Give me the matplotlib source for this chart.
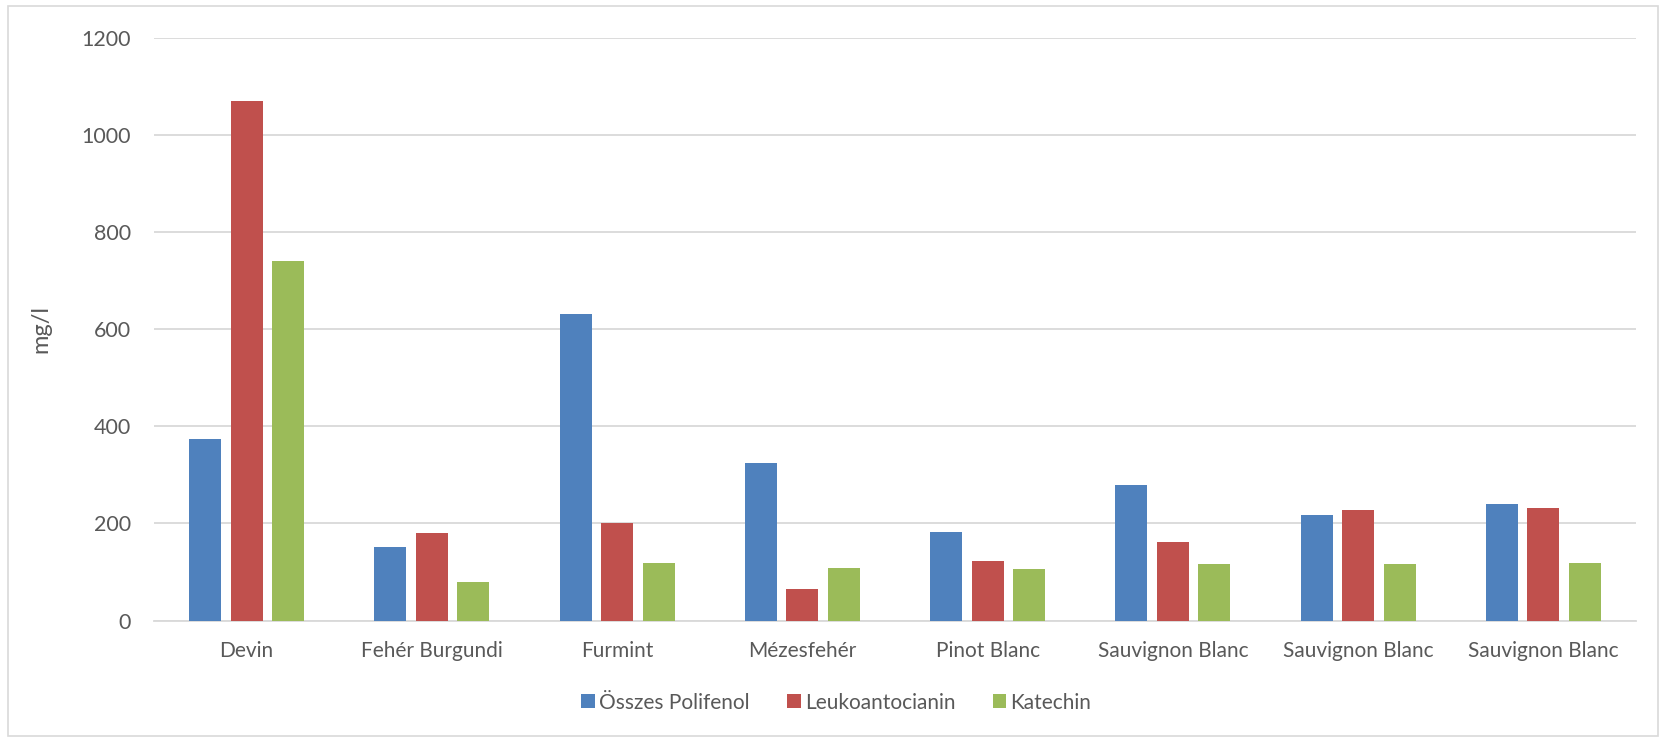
import matplotlib
matplotlib.use("Agg")
import matplotlib.pyplot as plt
import numpy as np
from matplotlib.patches import Rectangle

categories = ["Devin", "Fehér Burgundi", "Furmint", "Mézesfehér", "Pinot Blanc",
              "Sauvignon Blanc", "Sauvignon Blanc", "Sauvignon Blanc"]
osszes_polifenol = [374, 152, 631, 325, 183, 280, 218, 241]
leukoantocianin = [1071, 180, 201, 64, 122, 162, 228, 232]
katechin = [741, 80, 118, 108, 107, 116, 116, 118]
series_names = ["Összes Polifenol", "Leukoantocianin", "Katechin"]
colors = ["#4F81BD", "#C0504D", "#9BBB59"]
yticks = [0, 200, 400, 600, 800, 1000, 1200]

plt.rcParams['font.family'] = ['Lato', 'DejaVu Sans']
text_color = "#595959"

fig = plt.figure(figsize=(16.66, 7.42), dpi=100)
ax = fig.add_axes([0.0924, 0.1637, 0.982 - 0.0924, 0.9484 - 0.1637])

# chart border
fig.patches.append(Rectangle((0.005, 0.008), 0.99, 0.984, transform=fig.transFigure,
                             fill=False, edgecolor="#D9D9D9", linewidth=1.2))

x = np.arange(len(categories))
w = 0.173
step = 0.224
for i, (vals, name, c) in enumerate(zip([osszes_polifenol, leukoantocianin, katechin], series_names, colors)):
    ax.bar(x + (i - 1) * step, vals, width=w, color=c, label=name, zorder=3)

ax.set_xlim(-0.5, len(categories) - 0.5)
ax.set_ylim(0, 1200)
ax.set_yticks(yticks)
ax.set_yticklabels([str(t) for t in yticks])
ax.set_xticks(x)
ax.set_xticklabels(categories)
ax.yaxis.grid(True, color="#D9D9D9", linewidth=1.3, zorder=0)
ax.set_axisbelow(True)
for s in ["top", "right", "left"]:
    ax.spines[s].set_visible(False)
ax.spines["bottom"].set_color("#D9D9D9")
ax.spines["bottom"].set_linewidth(1.3)
ax.tick_params(axis="x", length=0, labelsize=15, colors=text_color, pad=15)
ax.tick_params(axis="y", length=0, labelsize=15.5, colors=text_color, pad=16.5)
ax.set_ylabel("mg/l", fontsize=17, color=text_color, labelpad=22)

leg = fig.legend(loc="center", bbox_to_anchor=(0.502, 0.053), ncol=3, frameon=False,
                 fontsize=15, handlelength=0.65, handleheight=0.65, handletextpad=0.2,
                 columnspacing=1.8)
for t in leg.get_texts():
    t.set_color(text_color)

fig.savefig("out.png", dpi=100)
